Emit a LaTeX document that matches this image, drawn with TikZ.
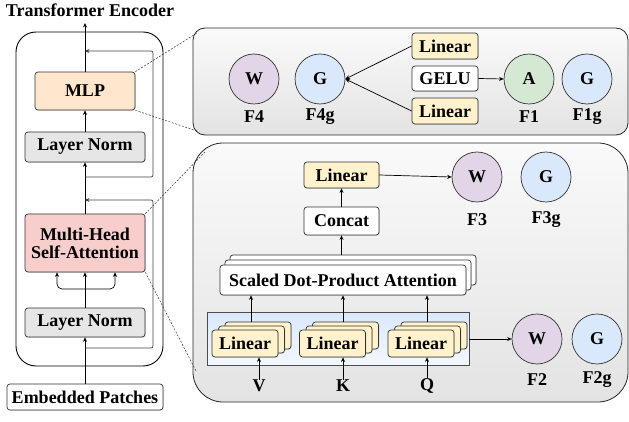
\documentclass[tikz,border=0pt]{standalone}
\usepackage{fontspec}
\setmainfont{Liberation Serif}
\usetikzlibrary{arrows.meta,shadows,calc}
\definecolor{mlpC}{HTML}{FFE6CC}
\definecolor{lnC}{HTML}{E6E6E6}
\definecolor{mhC}{HTML}{F8CECC}
\definecolor{linC}{HTML}{FFF2CC}
\definecolor{wC}{HTML}{E1D5E7}
\definecolor{gC}{HTML}{DAE8FC}
\definecolor{aC}{HTML}{D5E8D4}
\begin{document}
\begin{tikzpicture}[x=1pt,y=-1pt,font=\fontsize{18}{19}\selectfont\bfseries,
  box/.style={draw=black!80, rounded corners=3pt, line width=0.7pt, inner sep=0pt,
    drop shadow={opacity=0.25,shadow xshift=0.8pt,shadow yshift=-0.8pt}},
  circ/.style={circle, draw=black!80, line width=0.7pt, minimum size=50pt, inner sep=0pt},
  lab/.style={inner sep=0pt},
  arr/.style={-{Stealth[length=4.5pt,width=4pt]}, line width=0.7pt},
  res/.style={line width=0.9pt, draw=black!75, rounded corners=2pt},
  dsh/.style={dash pattern=on 2pt off 1.5pt, line width=0.5pt, draw=black!80},
  panel/.style={draw=black!85, line width=0.8pt, top color=white!98!black, bottom color=white!89!black, inner sep=0pt}]
\useasboundingbox (0,0) rectangle (629,422);

% ---------------- left column ----------------
\node[lab] (title) at (90,10) {Transformer Encoder};
\node[draw=black, line width=0.9pt, rounded corners=20pt, minimum width=147pt, minimum height=334pt] (enc) at (89.5,199) {};

\node[box, fill=mlpC, minimum width=100pt, minimum height=38pt] (mlp) at (85,91) {MLP};
\node[box, fill=lnC, minimum width=120pt, minimum height=30pt] (ln2) at (85,147) {Layer Norm};
\node[box, fill=mhC, minimum width=120pt, minimum height=58pt, align=center] (mhsa) at (85,243) {Multi-Head\\[-1pt]Self-Attention};
\node[box, fill=lnC, minimum width=120pt, minimum height=29pt] (ln1) at (85,322.5) {Layer Norm};
\node[box, fill=white, minimum width=156pt, minimum height=26pt] (emb) at (85,397) {Embedded Patches};

\coordinate (top) at (85,23);
\coordinate (split) at (85,289);
\coordinate (r1a) at (85,348);
\coordinate (r1b) at (85,200);
\coordinate (r2a) at (85,177);
\coordinate (r2b) at (85,51);

\draw[arr] (emb.north) -- (ln1.south);
\draw[arr] (ln1.north) -- (mhsa.south);
\draw[arr, rounded corners=5pt] (split) -| ([xshift=-28pt]mhsa.south);
\draw[arr, rounded corners=5pt] (split) -| ([xshift=30pt]mhsa.south);
\draw[arr] (mhsa.north) -- (ln2.south);
\draw[arr] (ln2.north) -- (mlp.south);
\draw[arr] (mlp.north) -- (top);
\draw[res, arr] (r1a) -- (153,348) -- (153,200) -- (r1b);
\draw[res, arr] (r2a) -- (153,177) -- (153,51) -- (r2b);

% ---------------- MLP panel ----------------
\node[panel, rounded corners=12pt, minimum width=435pt, minimum height=107pt] (mlpP) at (410.5,81.5) {};
\node[circ, fill=wC] (w4) at (254,79) {W};
\node[circ, fill=gC] (g4) at (320,79) {G};
\node[lab] (f4) at (254,117) {F4};
\node[lab] (f4g) at (320,117) {F4g};
\node[box, fill=linC, minimum width=66pt, minimum height=26pt] (lin1) at (445,46) {Linear};
\node[box, fill=white, minimum width=66pt, minimum height=25pt] (gelu) at (445,78.5) {GELU};
\node[box, fill=linC, minimum width=66pt, minimum height=26pt] (lin2) at (445,111) {Linear};
\node[circ, fill=aC] (a1) at (529,79) {A};
\node[circ, fill=gC] (g1) at (587,79) {G};
\node[lab] (f1) at (529,117) {F1};
\node[lab] (f1g) at (587,117) {F1g};
\draw[arr] (lin1.west) -- (g4.east);
\draw[arr] (lin2.west) -- (g4.east);
\draw[arr] (gelu.east) -- (a1.west);

% ---------------- MHSA panel ----------------
\node[panel, rounded corners=30pt, minimum width=435pt, minimum height=259pt] (mhP) at (410.5,272.5) {};
\node[box, fill=linC, minimum width=75pt, minimum height=26pt] (linT) at (341.5,175) {Linear};
\node[box, fill=white, minimum width=75pt, minimum height=28pt] (concat) at (341.5,221) {Concat};
\node[circ, fill=wC] (w3) at (477,177) {W};
\node[circ, fill=gC] (g3) at (546,177) {G};
\node[lab] (f3) at (477,220) {F3};
\node[lab] (f3g) at (546,220) {F3g};

\node[box, fill=white, minimum width=246pt, minimum height=30pt] (sdB) at (353,270) {};
\node[box, fill=white, minimum width=246pt, minimum height=30pt] (sdM) at (348,275) {};
\node[box, fill=white, minimum width=246pt, minimum height=30pt] (sdpa) at (343,280) {Scaled Dot-Product Attention};

\node[draw=black!70, line width=0.7pt, top color=gC, bottom color=gC!30, minimum width=262pt, minimum height=53pt, inner sep=0pt] (blue) at (338,338.5) {};

\foreach \n/\x in {v/245, k/332.5, q/421}{
  \node[box, fill=linC, minimum width=66pt, minimum height=27pt] (\n B) at (\x+13,335.5) {};
  \node[box, fill=linC, minimum width=66pt, minimum height=27pt] (\n M) at (\x+6.5,339.5) {};
  \node[box, fill=linC, minimum width=66pt, minimum height=27pt] (\n) at (\x,343.5) {Linear};
}
\node[lab] (V) at (259,386) {V};
\node[lab] (K) at (343,386) {K};
\node[lab] (Q) at (427,386) {Q};
\draw[arr] (V.north) -- (V.north |- v.south);
\draw[arr] (K.north) -- (K.north |- k.south);
\draw[arr] (Q.north) -- (Q.north |- q.south);
\draw[arr] (vB.north -| 251,0) -- (sdpa.south -| 251,0);
\draw[arr] (kB.north -| 343,0) -- (sdpa.south -| 343,0);
\draw[arr] (qB.north -| 427,0) -- (sdpa.south -| 427,0);
\draw[arr] (sdB.north -| concat.south) -- (concat.south);
\draw[arr] (concat.north) -- (linT.south);
\draw[arr] (linT.east) -- (w3.west);

\node[circ, fill=wC] (w2) at (537,339) {W};
\node[circ, fill=gC] (g2) at (597,339) {G};
\node[lab] (f2) at (537,380) {F2};
\node[lab] (f2g) at (597,380) {F2g};
\draw[arr] (blue.east |- w2.west) -- (w2.west);

% ---------------- dashed zoom lines ----------------
\coordinate (d1) at (197,33);
\coordinate (d2) at (197,131);
\coordinate (d3) at (205,152);
\coordinate (d4) at (196,371);
\draw[dsh] (mlp.north east) -- (d1);
\draw[dsh] (mlp.south east) -- (d2);
\draw[dsh] (mhsa.north east) -- (d3);
\draw[dsh] (mhsa.south east) -- (d4);
\end{tikzpicture}
\end{document}
